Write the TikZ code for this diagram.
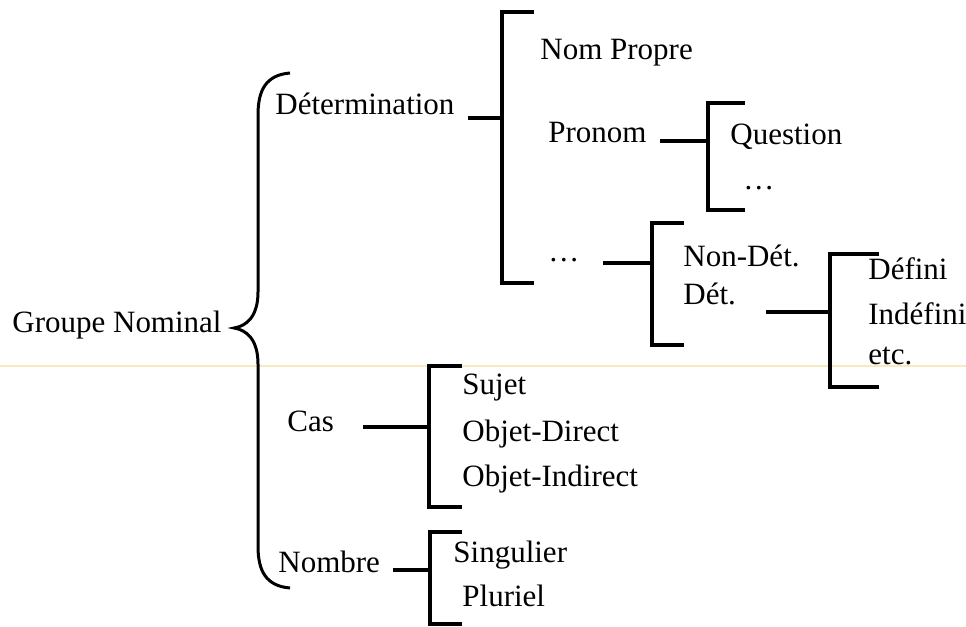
\documentclass[tikz,border=0pt]{standalone}
\usepackage{fontspec}
\setmainfont{Liberation Serif}
\usepackage{tikz}
\usetikzlibrary{positioning, calc}
\definecolor{scanline}{RGB}{248,234,190}
\tikzstyle{word} = [anchor=mid west, inner sep=0pt, font=\fontsize{15.5}{18}\selectfont]
\tikzstyle{bar} = [line width=1.7pt, line cap=rect]
\tikzstyle{brace} = [line width=1.5pt]

\begin{document}
\begin{tikzpicture}[x=0.5pt, y=-0.5pt]
        \useasboundingbox (0,0) rectangle (966,627);

        % faint line from the scan
        \draw[scanline, line width=1.2pt] (0,366) -- (966,366);

        % Root and main brace
        \node[word] (gn) at (12,328) {Groupe Nominal};
        \coordinate (tip) at (234,328);
        \draw[brace] (290,73) .. controls (266,75) and (258,90) .. (258,115) -- (258,292)
            .. controls (258,316) and (247,326) .. (tip)
            .. controls (247,330) and (258,340) .. (258,364) -- (258,546)
            .. controls (258,571) and (266,586) .. (290,588);

        % Détermination
        \node[word] (det) at (275,110) {Détermination};
        \coordinate (s1) at (470,118);
        \coordinate (j1) at (502,118);
        \draw[bar] (532,12) -- (502,12) -- (502,283) -- (532,283);
        \draw[bar] (s1) -- (j1);
        \node[word] (np) at (540,55) {Nom Propre};
        \node[word] (pron) at (548,138) {Pronom};
        \node[word] (etc1) at (548,257) {\dots};

        % Pronom
        \coordinate (s2) at (662,141);
        \coordinate (j2) at (708,141);
        \draw[bar] (743,103) -- (708,103) -- (708,210) -- (743,210);
        \draw[bar] (s2) -- (j2);
        \node[word] (quest) at (730,140) {Question};
        \node[word] (etc2) at (743,185) {\dots};

        % ...
        \coordinate (s3) at (605,263);
        \coordinate (j3) at (652,263);
        \draw[bar] (682,223) -- (652,223) -- (652,345) -- (682,345);
        \draw[bar] (s3) -- (j3);
        \node[word] (nondet) at (683,262) {Non-Dét.};
        \node[word] (dett) at (683,300) {Dét.};

        % Dét.
        \coordinate (s4) at (768,312);
        \coordinate (j4) at (830,312);
        \draw[bar] (877,254) -- (830,254) -- (830,387) -- (877,387);
        \draw[bar] (s4) -- (j4);
        \node[word] (def) at (868,275) {Défini};
        \node[word] (indef) at (868,320) {Indéfini};
        \node[word] (etc3) at (868,360) {etc.};

        % Cas
        \node[word] (cas) at (287,427) {Cas};
        \coordinate (s5) at (365,427);
        \coordinate (j5) at (429,427);
        \draw[bar] (460,366) -- (429,366) -- (429,507) -- (460,507);
        \draw[bar] (s5) -- (j5);
        \node[word] (suj) at (462,390) {Sujet};
        \node[word] (od) at (462,437) {Objet-Direct};
        \node[word] (oi) at (462,482) {Objet-Indirect};

        % Nombre
        \node[word] (nb) at (278,568) {Nombre};
        \coordinate (s6) at (395,570);
        \coordinate (j6) at (430,570);
        \draw[bar] (460,532) -- (430,532) -- (430,624) -- (460,624);
        \draw[bar] (s6) -- (j6);
        \node[word] (sing) at (453,558) {Singulier};
        \node[word] (plur) at (462,602) {Pluriel};

    \end{tikzpicture}
\end{document}
